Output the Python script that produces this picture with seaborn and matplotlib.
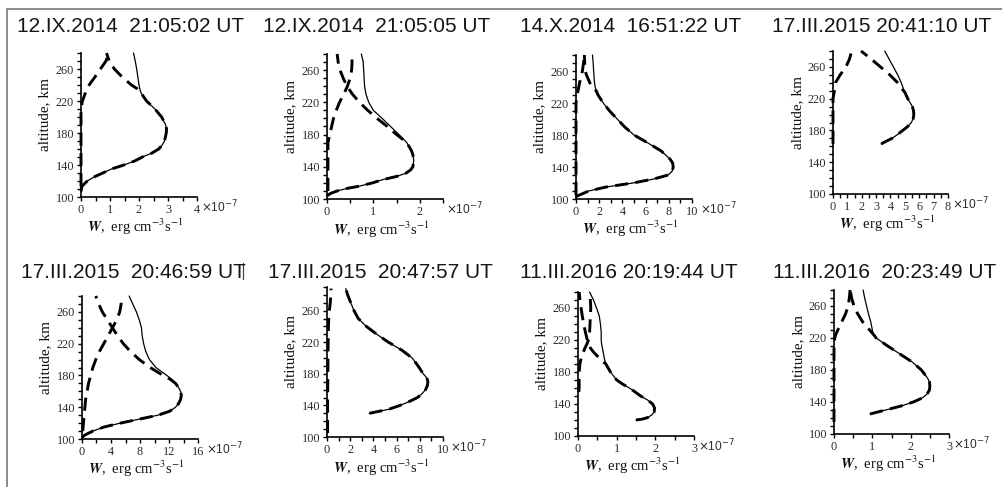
import numpy as np
import matplotlib
matplotlib.use("Agg")
import matplotlib.pyplot as plt
from matplotlib.lines import Line2D
import seaborn as sns

nan = np.nan

# panel titles (row by row)
TITLES = [
    "12.IX.2014  21:05:02 UT",
    "12.IX.2014  21:05:05 UT",
    "14.X.2014  16:51:22 UT",
    "17.III.2015 20:41:10 UT",
    "17.III.2015  20:46:59 UT",
    "17.III.2015  20:47:57 UT",
    "11.III.2016 20:19:44 UT",
    "11.III.2016  20:23:49 UT",
]

# W in units of 1e-7 erg cm^-3 s^-1; total = thin solid, main/second = thick dashed
ALT_1 = [107, 113, 116, 120, 125, 130, 135, 140, 145, 150, 155, 160, 165, 170, 180, 185, 190, 200, 210, 220, 230, 235, 240, 250, 260, 270, 280]
TOTAL_1 = [0.0, 0.03, 0.1, 0.22, 0.45, 0.75, 1.05, 1.48, 1.85, 2.12, 2.45, 2.68, 2.8, 2.88, 2.94, 2.95, 2.92, 2.78, 2.55, 2.26, 2.07, 2.03, 2.0, 1.96, 1.92, 1.87, 1.81]
MAIN_1 = [0.0, 0.03, 0.1, 0.22, 0.45, 0.75, 1.05, 1.48, 1.85, 2.12, 2.45, 2.68, 2.8, 2.88, 2.94, 2.95, 2.92, 2.78, 2.55, 2.26, 2.07, 1.95, 1.74, 1.42, 1.15, 0.97, 0.88]
SECOND_1 = [nan, 0.0, 0.0, 0.0, 0.0, 0.0, 0.0, 0.0, 0.0, 0.0, 0.0, 0.0, 0.0, 0.0, 0.0, 0.0, 0.0, 0.0, 0.0, 0.05, 0.15, 0.21, 0.28, 0.48, 0.67, 0.86, 0.95]

ALT_2 = [104, 107, 110, 113, 116, 120, 124, 128, 132, 136, 140, 148, 155, 160, 170, 180, 190, 200, 210, 220, 230, 240, 250, 260, 270, 280]
TOTAL_2 = [0.0, 0.08, 0.22, 0.42, 0.7, 0.98, 1.2, 1.5, 1.7, 1.8, 1.85, 1.87, 1.85, 1.82, 1.72, 1.55, 1.37, 1.19, 1.0, 0.9, 0.84, 0.81, 0.8, 0.79, 0.78, 0.74]
MAIN_2 = [0.0, 0.08, 0.22, 0.42, 0.7, 0.98, 1.2, 1.5, 1.7, 1.8, 1.85, 1.87, 1.85, 1.82, 1.72, 1.5, 1.3, 1.08, 0.88, 0.7, 0.55, 0.43, 0.35, 0.28, 0.24, 0.22]
SECOND_2 = [nan, nan, 0.02, 0.02, 0.02, 0.02, 0.02, 0.02, 0.02, 0.02, 0.02, 0.02, 0.02, 0.02, 0.02, 0.06, 0.1, 0.14, 0.2, 0.27, 0.36, 0.44, 0.5, 0.53, 0.54, 0.53]

ALT_3 = [103, 105, 110, 115, 120, 125, 130, 135, 140, 145, 150, 160, 170, 180, 190, 200, 210, 220, 230, 235, 240, 245, 250, 255, 260, 270, 280]
TOTAL_3 = [0.0, 0.3, 1.1, 2.6, 4.9, 6.7, 7.95, 8.3, 8.38, 8.33, 8.1, 7.35, 6.2, 5.0, 4.2, 3.55, 2.9, 2.35, 1.9, 1.75, 1.65, 1.6, 1.57, 1.55, 1.52, 1.48, 1.42]
MAIN_3 = [0.0, 0.3, 1.1, 2.6, 4.9, 6.7, 7.95, 8.3, 8.38, 8.33, 8.1, 7.35, 6.2, 5.0, 4.2, 3.55, 2.9, 2.35, 1.9, 1.75, 1.4, 1.2, 1.05, 0.9, 0.8, 0.75, 0.72]
SECOND_3 = [nan, 0.0, 0.0, 0.0, 0.0, 0.0, 0.0, 0.0, 0.0, 0.0, 0.0, 0.0, 0.0, 0.0, 0.0, 0.0, 0.0, 0.0, 0.12, 0.17, 0.24, 0.3, 0.4, 0.48, 0.55, 0.65, 0.72]

ALT_4 = [163, 165, 170, 175, 180, 185, 190, 195, 200, 205, 210, 220, 228, 230, 240, 250, 260, 270, 280]
TOTAL_4 = [3.35, 3.55, 4.1, 4.5, 4.85, 5.2, 5.45, 5.58, 5.62, 5.6, 5.52, 5.2, 5.0, 4.95, 4.75, 4.5, 4.2, 3.9, 3.6]
MAIN_4 = [3.35, 3.55, 4.1, 4.5, 4.85, 5.2, 5.45, 5.58, 5.62, 5.6, 5.52, 5.2, 5.0, 4.9, 4.5, 3.95, 3.3, 2.65, 1.95]
SECOND_4 = [0.0, 0.0, 0.0, 0.0, 0.0, 0.0, 0.0, 0.0, 0.0, 0.0, 0.0, 0.0, 0.08, 0.1, 0.17, 0.5, 0.9, 1.15, 1.3]

ALT_5 = [102, 105, 110, 115, 120, 125, 130, 135, 140, 145, 150, 155, 160, 165, 170, 175, 180, 190, 200, 210, 220, 230, 240, 250, 260, 270, 280]
TOTAL_5 = [0.0, 0.4, 1.5, 3.0, 5.3, 7.9, 10.5, 12.1, 12.9, 13.35, 13.6, 13.7, 13.6, 13.3, 12.9, 12.4, 11.7, 10.2, 9.3, 8.8, 8.5, 8.3, 8.2, 7.9, 7.5, 7.0, 6.5]
MAIN_5 = [0.0, 0.4, 1.5, 3.0, 5.3, 7.9, 10.5, 12.1, 12.9, 13.35, 13.6, 13.7, 13.6, 13.3, 12.9, 12.2, 11.2, 9.4, 7.9, 6.7, 5.7, 4.9, 4.2, 3.5, 2.8, 2.3, 1.9]
SECOND_5 = [nan, nan, 0.1, 0.15, 0.2, 0.25, 0.3, 0.35, 0.4, 0.45, 0.5, 0.6, 0.7, 0.8, 0.9, 1.05, 1.2, 1.5, 1.9, 2.4, 3.0, 3.6, 4.2, 4.8, 5.2, 5.4, 5.3]

ALT_6 = [105, 110, 120, 130, 132, 135, 140, 145, 150, 155, 160, 165, 170, 175, 180, 190, 200, 210, 220, 230, 240, 250, 260, 270, 280, 288]
TOTAL_6 = [nan, nan, nan, 3.65, 4.3, 5.3, 6.3, 7.1, 7.8, 8.2, 8.5, 8.65, 8.7, 8.6, 8.3, 7.85, 7.35, 6.45, 5.3, 4.3, 3.4, 2.7, 2.33, 2.05, 1.78, 1.62]
MAIN_6 = [nan, nan, nan, 3.65, 4.3, 5.3, 6.3, 7.1, 7.8, 8.2, 8.5, 8.65, 8.7, 8.6, 8.3, 7.85, 7.35, 6.45, 5.3, 4.3, 3.4, 2.7, 2.33, 2.05, 1.78, 1.62]
SECOND_6 = [0.05, 0.05, 0.05, 0.05, 0.05, 0.05, 0.05, 0.05, 0.06, 0.06, 0.06, 0.06, 0.07, 0.07, 0.07, 0.08, 0.08, 0.09, 0.1, 0.11, 0.12, 0.15, 0.2, 0.28, 0.33, 0.35]

ALT_7 = [120, 121, 123, 126, 130, 135, 140, 145, 150, 155, 160, 165, 170, 180, 185, 190, 195, 200, 205, 210, 215, 220, 230, 240, 250, 260, 270, 280]
TOTAL_7 = [1.5, 1.65, 1.8, 1.9, 1.97, 1.98, 1.93, 1.8, 1.62, 1.48, 1.33, 1.15, 1.0, 0.84, 0.78, 0.72, 0.69, 0.67, 0.65, 0.63, 0.61, 0.6, 0.6, 0.58, 0.55, 0.48, 0.4, 0.3]
MAIN_7 = [1.5, 1.65, 1.8, 1.9, 1.97, 1.98, 1.93, 1.8, 1.62, 1.48, 1.33, 1.15, 1.0, 0.84, 0.78, 0.72, 0.6, 0.5, 0.4, 0.32, 0.27, 0.24, 0.19, 0.15, 0.11, 0.08, 0.05, 0.03]
SECOND_7 = [nan, nan, nan, nan, nan, nan, nan, nan, nan, 0.02, 0.03, 0.03, 0.03, 0.03, 0.04, 0.05, 0.07, 0.1, 0.14, 0.18, 0.23, 0.27, 0.3, 0.31, 0.32, 0.33, 0.32, 0.3]

ALT_8 = [115, 120, 125, 127, 130, 135, 140, 145, 150, 155, 160, 165, 170, 180, 190, 200, 210, 220, 225, 230, 240, 250, 260, 270, 280]
TOTAL_8 = [nan, nan, 0.94, 1.1, 1.35, 1.75, 2.07, 2.3, 2.43, 2.49, 2.5, 2.49, 2.44, 2.28, 2.04, 1.72, 1.4, 1.1, 1.02, 1.0, 0.96, 0.9, 0.85, 0.8, 0.76]
MAIN_8 = [nan, nan, 0.94, 1.1, 1.35, 1.75, 2.07, 2.3, 2.43, 2.49, 2.5, 2.49, 2.44, 2.28, 2.04, 1.72, 1.4, 1.1, 1.02, 0.93, 0.75, 0.62, 0.52, 0.46, 0.42]
SECOND_8 = [0.0, 0.0, 0.0, 0.0, 0.0, 0.0, 0.0, 0.0, 0.0, 0.0, 0.0, 0.0, 0.0, 0.0, 0.0, 0.0, 0.0, 0.02, 0.05, 0.1, 0.2, 0.3, 0.37, 0.4, 0.42]

ALTS = [ALT_1, ALT_2, ALT_3, ALT_4, ALT_5, ALT_6, ALT_7, ALT_8]
TOTALS = [TOTAL_1, TOTAL_2, TOTAL_3, TOTAL_4, TOTAL_5, TOTAL_6, TOTAL_7, TOTAL_8]
MAINS = [MAIN_1, MAIN_2, MAIN_3, MAIN_4, MAIN_5, MAIN_6, MAIN_7, MAIN_8]
SECONDS = [SECOND_1, SECOND_2, SECOND_3, SECOND_4, SECOND_5, SECOND_6, SECOND_7, SECOND_8]

# axis ranges and ticks
X_MAX = [4, 2.5, 10, 8, 16, 10, 3, 3]
Y_MAX = [280, 280, 280, 280, 280, 290, 280, 280]
X_LABELED = [[0, 1, 2, 3, 4], [0, 1, 2], [0, 2, 4, 6, 8, 10], [0, 1, 2, 3, 4, 5, 6, 7, 8],
             [0, 4, 8, 12, 16], [0, 2, 4, 6, 8, 10], [0, 1, 2, 3], [0, 1, 2, 3]]
X_MINOR = [0.5, 0.5, 1, 0.5, 2, 1, 0.5, 0.5]
Y_LABELED = [100, 140, 180, 220, 260]

# layout in pixels: left, right, bottom (y=100 km), top (y=ymax); title x and baseline
W_PX, H_PX = 1003, 487
BOXES = [(81, 197, 197, 53), (327, 443, 199, 54), (576, 692, 199, 55), (833, 948, 194, 51),
         (82, 198, 439, 296), (327, 443, 437, 287), (578, 694, 436, 292), (834, 949, 434, 290)]
TITLE_POS = [(17, 32), (263, 32), (520, 32), (772, 32), (21, 278), (268, 278), (520, 278), (773, 278)]

DASH = (0, (4.5, 2.5))
SERIF = "Liberation Serif"
SANS = "Liberation Sans"
TICK_SIZE = 8.8

sns.set_style("ticks")
plt.rcParams["font.family"] = [SERIF, "DejaVu Sans"]

fig = plt.figure(figsize=(W_PX / 100, H_PX / 100), dpi=100)
fig.patch.set_facecolor("white")

# grey frame lines from the scanned page
fig.add_artist(Line2D([7 / W_PX, 1], [1 - 9 / H_PX, 1 - 9 / H_PX], color="#8a8a8a", lw=1.4))
fig.add_artist(Line2D([7 / W_PX, 7 / W_PX], [0, 1 - 9 / H_PX], color="#8a8a8a", lw=1.4))
fig.add_artist(Line2D([243 / W_PX, 243 / W_PX], [1 - 279 / H_PX, 1 - 263 / H_PX], color="#444444", lw=0.9))

for i in range(8):
    left, right, bottom, top = BOXES[i]
    ax = fig.add_axes([left / W_PX, 1 - bottom / H_PX, (right - left) / W_PX, (bottom - top) / H_PX])
    ax.set_facecolor("white")
    alt = np.asarray(ALTS[i], float)

    curves = [(TOTALS[i], 0.9, "-"), (MAINS[i], 2.1, DASH), (SECONDS[i], 2.1, DASH)]
    for vals, lw, ls in curves:
        vals = np.asarray(vals, float)
        ok = ~np.isnan(vals)
        sns.lineplot(x=vals[ok], y=alt[ok], ax=ax, orient="y", sort=False, estimator=None,
                     color="black", lw=lw, linestyle=ls, clip_on=False)

    ax.set_xlim(0, X_MAX[i])
    ax.set_ylim(100, Y_MAX[i])
    ax.set_xticks(X_LABELED[i])
    ax.set_xticklabels([str(v) for v in X_LABELED[i]])
    ax.set_xticks(np.arange(0, X_MAX[i] + 1e-9, X_MINOR[i]), minor=True)
    ax.set_yticks(Y_LABELED)
    ax.set_yticks(np.arange(100, Y_MAX[i] + 1, 10), minor=True)
    ax.tick_params(which="both", direction="out", length=2.8, width=1.0, color="black",
                   labelsize=TICK_SIZE, labelcolor="#2b2b3a", pad=2.2)
    for lab in ax.get_xticklabels() + ax.get_yticklabels():
        lab.set_family(SERIF)
    sns.despine(ax=ax)
    for side in ["left", "bottom"]:
        ax.spines[side].set_linewidth(1.2)
        ax.spines[side].set_color("black")

    ax.set_ylabel("altitude, km", fontsize=11, family=SERIF, color="#111111")
    ax.yaxis.label.set_va("center")
    ax.yaxis.set_label_coords(-0.31, 0.57)
    ax.set_xlabel(r"$\mathbfit{W}$,  erg cm$^{-3}$s$^{-1}$", fontsize=10.5, family=SERIF,
                  color="#111111", math_fontfamily="stix")
    ax.xaxis.set_label_coords(0.47, -0.14)

    # multiplier after the last tick label
    last = X_LABELED[i][-1]
    if abs(last - X_MAX[i]) < 1e-9:
        dx = 0.5 * len(str(last)) * 0.5 * TICK_SIZE + 1.0
    else:
        dx = 2.0
    ax.annotate(r"$\times$10$^{-7}$", xy=(1, 0), xycoords="axes fraction",
                xytext=(dx, -11.0), textcoords="offset points", ha="left", va="baseline",
                fontsize=8.6, family=SANS, color="#2b2b3a", math_fontfamily="dejavusans")

    tx, ty = TITLE_POS[i]
    fig.text(tx / W_PX, 1 - ty / H_PX, TITLES[i], ha="left", va="baseline",
             fontsize=15, family=SANS, color="#151515")

fig.savefig("out.png", dpi=100, facecolor="white")
